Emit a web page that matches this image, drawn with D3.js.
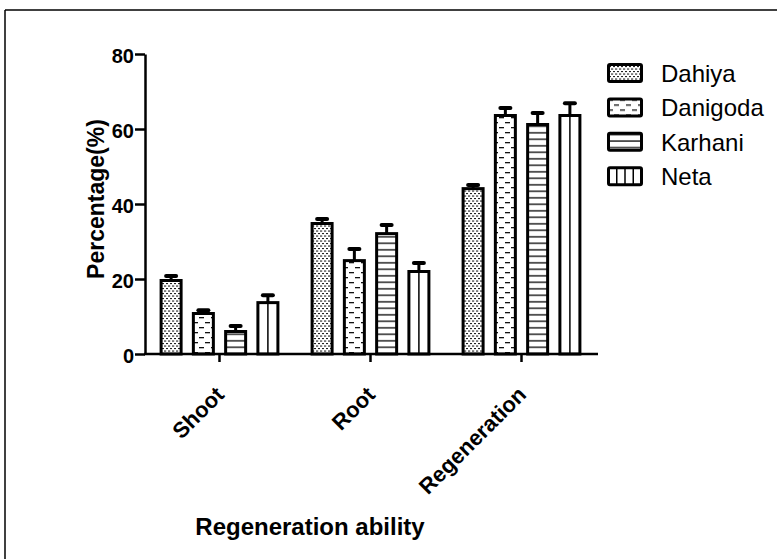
<!DOCTYPE html>
<html>
<head>
<meta charset="utf-8">
<script src="https://cdn.jsdelivr.net/npm/d3@7"></script>
<style>
    body { margin: 0; background: #fff; }
    svg { display: block; font-family: "Liberation Sans", Arial, sans-serif; }
    .axis path, .axis line { stroke: #000; stroke-width: 2.5; }
    .axis text { font-weight: bold; fill: #000; }
</style>
</head>
<body>
<div id="chart"></div>
<script>
// data
let categories = ["Shoot", "Root", "Regeneration"];
let cultivars = ["Dahiya", "Danigoda", "Karhani", "Neta"];
let dahiya   = [19.6, 34.8, 44.1];
let danigoda = [10.8, 24.9, 63.6];
let karhani  = [6.0, 32.1, 61.2];
let neta     = [13.7, 22.0, 63.6];
let dahiyaErr   = [1.2, 1.2, 1.0];
let danigodaErr = [0.9, 3.1, 2.0];
let karhaniErr  = [1.5, 2.3, 3.1];
let netaErr     = [2.0, 2.3, 3.3];
let yTicks = [0, 20, 40, 60, 80];

let seriesValues = [dahiya, danigoda, karhani, neta];
let seriesErrors = [dahiyaErr, danigodaErr, karhaniErr, netaErr];

let width = 777, height = 559;

let svg = d3.select("#chart").append("svg")
    .attr("width", width)
    .attr("height", height);

// frame lines (top and left only)
svg.append("line").attr("x1", 5).attr("y1", 10).attr("x2", width).attr("y2", 10)
    .attr("stroke", "#000").attr("stroke-width", 1.5);
svg.append("line").attr("x1", 5).attr("y1", 10).attr("x2", 5).attr("y2", height)
    .attr("stroke", "#000").attr("stroke-width", 1.5);

// fill patterns
let defs = svg.append("defs");

let pDahiya = defs.append("pattern").attr("id", "pat-Dahiya")
    .attr("patternUnits", "userSpaceOnUse").attr("width", 4).attr("height", 5);
pDahiya.append("rect").attr("width", 4).attr("height", 5).attr("fill", "#fff");
pDahiya.append("rect").attr("x", 0).attr("y", 0.5).attr("width", 2.2).attr("height", 1.1).attr("fill", "#222");
pDahiya.append("rect").attr("x", 2).attr("y", 3).attr("width", 2.2).attr("height", 1.1).attr("fill", "#222");

let pDanigoda = defs.append("pattern").attr("id", "pat-Danigoda")
    .attr("patternUnits", "userSpaceOnUse").attr("width", 12).attr("height", 10);
pDanigoda.append("rect").attr("width", 12).attr("height", 10).attr("fill", "#fff");
pDanigoda.append("rect").attr("x", 1).attr("y", 2).attr("width", 5).attr("height", 1.3).attr("fill", "#111");
pDanigoda.append("rect").attr("x", 7).attr("y", 7).attr("width", 5).attr("height", 1.3).attr("fill", "#111");

let pKarhani = defs.append("pattern").attr("id", "pat-Karhani")
    .attr("patternUnits", "userSpaceOnUse").attr("width", 10).attr("height", 6.5);
pKarhani.append("rect").attr("width", 10).attr("height", 6.5).attr("fill", "#fff");
pKarhani.append("rect").attr("x", 0).attr("y", 2).attr("width", 10).attr("height", 1.6).attr("fill", "#333");

let fills = {"Dahiya": "url(#pat-Dahiya)", "Danigoda": "url(#pat-Danigoda)", "Karhani": "url(#pat-Karhani)", "Neta": "#fff"};

// scales
let x0 = d3.scaleBand()
    .domain(categories)
    .range([144, 597]);

let x1 = d3.scaleBand()
    .domain(cultivars)
    .range([0, x0.bandwidth()])
    .paddingInner(0.38)
    .paddingOuter(0.53);

let y = d3.scaleLinear()
    .domain([0, 80])
    .range([354, 54]);

// table of bars built from the arrays
let bars = [];
categories.forEach(function(c, i) {
    cultivars.forEach(function(s, j) {
        bars.push({category: c, cultivar: s, value: seriesValues[j][i], err: seriesErrors[j][i]});
    });
});

// error bars (upper only) drawn under the bars
let errG = svg.append("g");
errG.selectAll(".err-line")
    .data(bars)
    .enter().append("line")
    .attr("x1", d => x0(d.category) + x1(d.cultivar) + x1.bandwidth() / 2)
    .attr("x2", d => x0(d.category) + x1(d.cultivar) + x1.bandwidth() / 2)
    .attr("y1", d => y(d.value))
    .attr("y2", d => y(d.value + d.err))
    .attr("stroke", "#000").attr("stroke-width", 3);
errG.selectAll(".err-cap")
    .data(bars)
    .enter().append("line")
    .attr("x1", d => x0(d.category) + x1(d.cultivar) + x1.bandwidth() / 2 - 5)
    .attr("x2", d => x0(d.category) + x1(d.cultivar) + x1.bandwidth() / 2 + 5)
    .attr("y1", d => y(d.value + d.err))
    .attr("y2", d => y(d.value + d.err))
    .attr("stroke", "#000").attr("stroke-width", 4).attr("stroke-linecap", "round");

// bars
svg.append("g").selectAll("rect")
    .data(bars)
    .enter().append("rect")
    .attr("x", d => x0(d.category) + x1(d.cultivar))
    .attr("y", d => y(d.value))
    .attr("width", x1.bandwidth())
    .attr("height", d => y(0) - y(d.value))
    .attr("fill", d => fills[d.cultivar])
    .attr("stroke", "#000")
    .attr("stroke-width", 3);

// Neta gets vertical lines
svg.append("g").selectAll("line")
    .data(bars.filter(d => d.cultivar == "Neta"))
    .enter().append("line")
    .attr("x1", d => x0(d.category) + x1(d.cultivar) + x1.bandwidth() / 2)
    .attr("x2", d => x0(d.category) + x1(d.cultivar) + x1.bandwidth() / 2)
    .attr("y1", d => y(d.value))
    .attr("y2", y(0))
    .attr("stroke", "#000").attr("stroke-width", 1.5);

// axes
let yAxis = svg.append("g")
    .attr("class", "axis")
    .attr("transform", "translate(145,0)")
    .call(d3.axisLeft(y).tickValues(yTicks).tickSize(10).tickSizeOuter(0).tickPadding(1));
yAxis.selectAll("text").style("font-size", "20px").attr("dy", "0.42em");

let xAxis = svg.append("g")
    .attr("class", "axis")
    .attr("transform", "translate(0,354)")
    .call(d3.axisBottom(x0).tickSize(8).tickSizeOuter(0));
xAxis.select(".domain").attr("d", "M144,0H598");
xAxis.selectAll("text")
    .style("font-size", "22px")
    .attr("text-anchor", "end")
    .attr("y", 0)
    .attr("dy", 0)
    .attr("transform", "translate(6,42) rotate(-45)");

// axis titles
svg.append("text")
    .attr("transform", "translate(104,199) rotate(-90)")
    .attr("text-anchor", "middle")
    .style("font-size", "23px")
    .style("font-weight", "bold")
    .text("Percentage(%)");

svg.append("text")
    .attr("x", 310)
    .attr("y", 535)
    .attr("text-anchor", "middle")
    .style("font-size", "24px")
    .style("font-weight", "bold")
    .text("Regeneration ability");

// legend
let legend = svg.append("g").attr("transform", "translate(607,63)");
let rows = legend.selectAll("g")
    .data(cultivars)
    .enter().append("g")
    .attr("transform", (d, i) => "translate(0," + (i * 34.4) + ")");

rows.append("rect")
    .attr("x", 1.5).attr("y", 1.5)
    .attr("width", 33).attr("height", 17)
    .attr("rx", 1.5)
    .attr("fill", d => fills[d])
    .attr("stroke", "#000")
    .attr("stroke-width", 3);

rows.filter(d => d == "Neta").selectAll(".vline")
    .data([1, 2, 3])
    .enter().append("line")
    .attr("x1", k => 1.5 + 33 * k / 4)
    .attr("x2", k => 1.5 + 33 * k / 4)
    .attr("y1", 1.5).attr("y2", 18.5)
    .attr("stroke", "#000").attr("stroke-width", 1.5);

rows.append("text")
    .attr("x", 54)
    .attr("y", 19)
    .style("font-size", "24px")
    .text(d => d);
</script>
</body>
</html>
